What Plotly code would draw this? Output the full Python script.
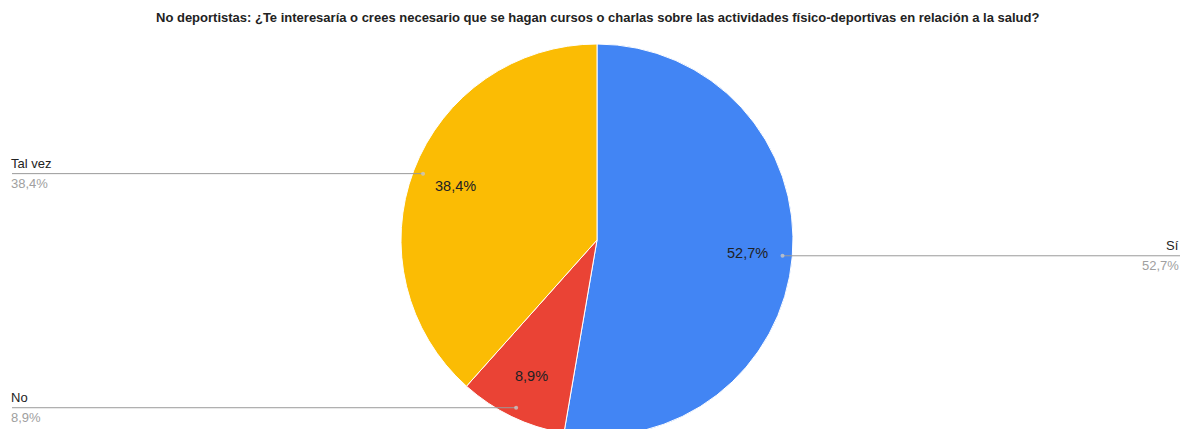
import math
import plotly.graph_objects as go

# Survey answers (share of respondents, %)
categories = ["Sí", "No", "Tal vez"]
values = [52.7, 8.9, 38.4]
colors = ["#4285F4", "#EA4335", "#FBBC04"]
title = ("No deportistas: ¿Te interesaría o crees necesario que se hagan cursos o charlas "
         "sobre las actividades físico-deportivas en relación a la salud?")

W, H = 1181, 445
CX, CY, R = 597, 240, 196          # pie centre and radius in page pixels
FONT = "Liberation Sans, Arial, sans-serif"


def fmt(v):
    return f"{v:.1f}".replace(".", ",") + "%"


fig = go.Figure()
fig.add_trace(go.Pie(
    labels=categories, values=values, sort=False, direction="clockwise", rotation=0,
    marker=dict(colors=colors, line=dict(color="white", width=1)),
    textinfo="none", hoverinfo="label+percent", showlegend=False,
    domain=dict(x=[(CX - R) / W, (CX + R) / W], y=[(H - CY - R) / H, (H - CY + R) / H]),
))

# pixel overlay axes for labels and leader lines
fig.update_xaxes(range=[0, W], visible=False, fixedrange=True)
fig.update_yaxes(range=[H, 0], visible=False, fixedrange=True)

total = sum(values)
start = 0.0
annotations = []
shapes = []
for name, v in zip(categories, values):
    frac = v / total
    mid = (start + frac / 2) * 2 * math.pi
    start += frac
    sx, sy = math.sin(mid), -math.cos(mid)
    # value inside the slice
    annotations.append(dict(x=CX + 0.77 * R * sx, y=CY + 0.77 * R * sy, xref="x", yref="y",
                            text=fmt(v), showarrow=False,
                            font=dict(family=FONT, size=14.5, color="#202124")))
    # leader line from slice to outer label
    px, py = CX + 0.95 * R * sx, CY + 0.95 * R * sy
    right = sx > 0
    edge = W - 1 if right else 12
    shapes.append(dict(type="line", xref="x", yref="y", x0=px, y0=py, x1=edge, y1=py,
                       line=dict(color="#9a9a9a", width=1)))
    shapes.append(dict(type="circle", xref="x", yref="y", x0=px - 2, y0=py - 2, x1=px + 2, y1=py + 2,
                       fillcolor="rgba(200,200,200,0.8)", line=dict(width=0)))
    anchor = "right" if right else "left"
    tx = edge + 1 if right else edge - 3
    annotations.append(dict(x=tx, y=py - 1, xref="x", yref="y", text=name, showarrow=False,
                            xanchor=anchor, yanchor="bottom",
                            font=dict(family=FONT, size=13, color="#222222")))
    annotations.append(dict(x=tx, y=py + 0.5, xref="x", yref="y", text=fmt(v), showarrow=False,
                            xanchor=anchor, yanchor="top",
                            font=dict(family=FONT, size=13, color="#a0a0a0")))

annotations.append(dict(x=CX, y=17, xref="x", yref="y", text=f"<b>{title}</b>", showarrow=False,
                        font=dict(family=FONT, size=13, color="#222222")))

fig.update_layout(
    width=W, height=H, autosize=False,
    margin=dict(l=0, r=0, t=0, b=0),
    paper_bgcolor="white", plot_bgcolor="rgba(0,0,0,0)",
    annotations=annotations, shapes=shapes,
)

fig.write_html("out.html", post_script=(
    "document.body.style.margin='0';"
    "document.body.style.overflow='hidden';"
    "document.documentElement.style.overflow='hidden';"
))
